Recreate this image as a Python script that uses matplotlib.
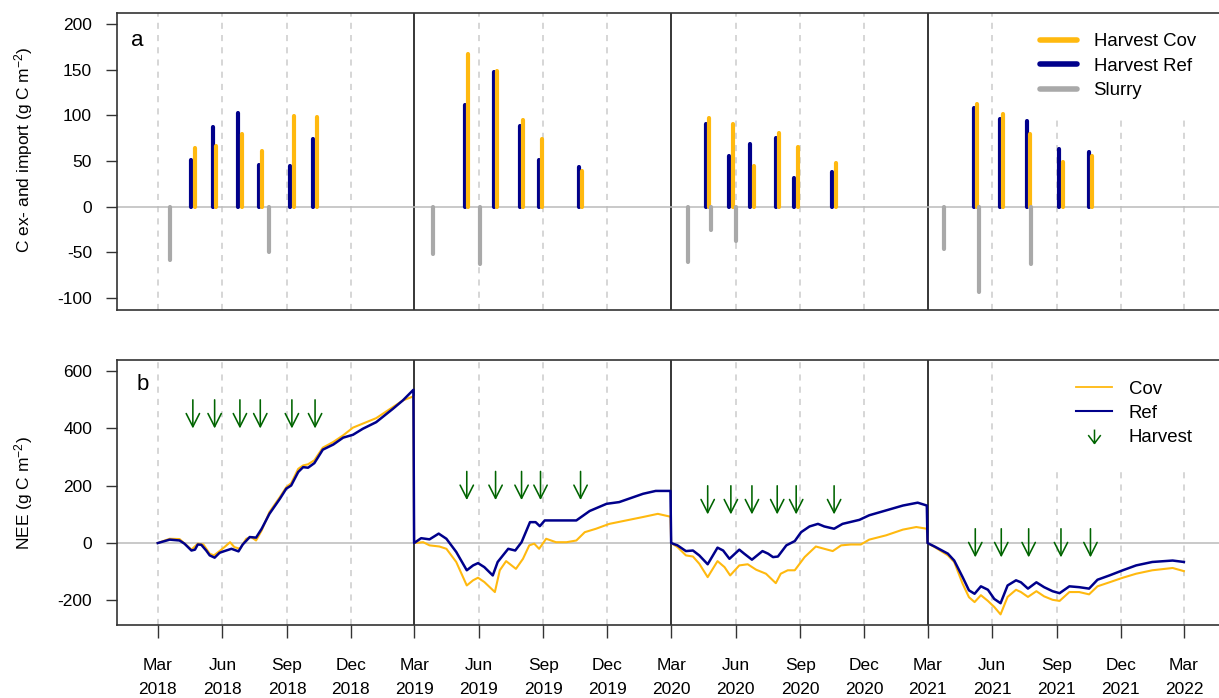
import numpy as np
import pandas as pd
import matplotlib
matplotlib.use('Agg')
from matplotlib import pyplot as plt
from matplotlib.lines import Line2D
from matplotlib.path import Path

plt.rcParams['font.family'] = ['Liberation Sans', 'DejaVu Sans']
plt.rcParams['font.size'] = 12.5
plt.rcParams['axes.unicode_minus'] = False
plt.rcParams['mathtext.fontset'] = 'custom'
plt.rcParams['mathtext.rm'] = 'Liberation Sans'
plt.rcParams['mathtext.it'] = 'Liberation Sans:italic'

# ---- harvest C export and slurry C import (g C m-2) ----
harvest_dates = ['2018-04-20', '2018-05-21', '2018-06-26', '2018-07-25', '2018-09-08', '2018-10-11',
                 '2019-05-15', '2019-06-25', '2019-08-01', '2019-08-28', '2019-10-24',
                 '2020-04-22', '2020-05-25', '2020-06-24', '2020-07-30', '2020-08-26', '2020-10-19',
                 '2021-05-08', '2021-06-14', '2021-07-23', '2021-09-07', '2021-10-19']
harvest_ref = [51, 87, 103, 46, 45, 74,
               111, 147, 88, 51, 44,
               90, 55, 69, 75, 31, 38,
               108, 96, 94, 63, 60]
harvest_cov = [64, 66, 80, 61, 99, 98,
               167, 148, 95, 74, 39,
               97, 90, 45, 81, 65, 48,
               112, 102, 80, 49, 55]
slurry_dates = ['2018-03-18', '2018-08-07', '2019-03-28', '2019-06-03', '2020-03-25',
                '2020-04-27', '2020-06-02', '2021-03-25', '2021-05-13', '2021-07-27']
slurry = [-58, -49, -52, -63, -60, -25, -38, -46, -93, -63]

# ---- cumulative NEE per year, days counted from 1 March ----
year_start = ['2018-03-01', '2019-03-01', '2020-03-01', '2021-03-01']

ref_2018_day = [0, 17, 31, 38, 48, 53, 57, 62, 69, 74, 81, 88, 95, 105, 115, 121, 131, 140, 148, 159,
                174, 183, 190, 200, 207, 214, 223, 235, 250, 264, 278, 292, 311, 335, 349, 364]
ref_2018 = [0, 12, 9, -2, -26, -23, -5, -6, -26, -43, -51, -34, -28, -20, -29, -5, 21, 19, 50, 102,
            155, 190, 201, 248, 265, 263, 279, 326, 344, 368, 378, 399, 422, 469, 498, 535]
cov_2018_day = [0, 17, 31, 48, 57, 65, 74, 80, 88, 95, 103, 109, 117, 126, 133, 140, 148, 159, 174,
                183, 190, 200, 207, 214, 223, 235, 250, 264, 278, 292, 311, 335, 349, 364]
cov_2018 = [0, 15, 14, -23, -2, -5, -37, -43, -28, -14, 3, -14, -20, 15, 21, 9, 44, 108, 161,
            195, 209, 259, 271, 275, 289, 333, 353, 376, 403, 417, 436, 475, 498, 512]

ref_2019_day = [0, 10, 22, 35, 46, 60, 75, 84, 91, 100, 112, 119, 134, 144, 153, 165, 173, 179, 186,
                202, 217, 231, 250, 274, 292, 326, 344, 365]
ref_2019 = [0, 17, 13, 33, 15, -31, -95, -78, -70, -84, -113, -66, -20, -26, 3, 73, 73, 59, 79,
            79, 79, 79, 112, 137, 143, 172, 182, 182]
cov_2019_day = [0, 13, 22, 36, 46, 60, 75, 84, 91, 100, 115, 122, 131, 145, 155, 164, 171, 178, 188,
                202, 217, 231, 243, 259, 278, 302, 326, 347, 365]
cov_2019 = [0, 3, -8, -12, -20, -66, -148, -130, -121, -136, -171, -95, -63, -90, -55, -8, -2, -20, 15,
            3, 3, 9, 38, 50, 67, 79, 91, 102, 92]

ref_2020_day = [0, 9, 21, 31, 40, 52, 66, 74, 83, 97, 104, 115, 130, 138, 145, 152, 164, 176, 185,
                197, 209, 218, 232, 244, 268, 282, 306, 330, 351, 364]
ref_2020 = [0, -8, -28, -26, -43, -74, -16, -26, -55, -23, -37, -58, -28, -37, -49, -47, -8, 7, 38,
            58, 67, 58, 50, 67, 81, 97, 114, 131, 141, 131]
cov_2020_day = [0, 9, 21, 31, 40, 52, 66, 76, 84, 97, 109, 121, 135, 149, 156, 166, 176, 190, 206,
                218, 230, 242, 256, 270, 282, 306, 330, 349, 364]
cov_2020 = [0, -14, -43, -47, -72, -119, -63, -84, -113, -78, -74, -93, -107, -140, -107, -95, -95,
            -49, -12, -20, -28, -8, -5, -5, 12, 27, 47, 56, 50]

ref_2021_day = [0, 10, 29, 38, 50, 59, 67, 76, 86, 95, 104, 114, 126, 133, 143, 155, 166, 178, 188,
                202, 216, 230, 242, 259, 278, 297, 320, 349, 365]
ref_2021 = [0, -12, -37, -61, -119, -165, -177, -151, -163, -195, -210, -148, -130, -137, -159, -137,
            -154, -168, -175, -151, -154, -159, -128, -113, -95, -78, -66, -61, -66]
cov_2021_day = ref_2021_day
cov_2021 = [0, -14, -43, -66, -142, -189, -206, -182, -202, -223, -249, -188, -163, -171, -188, -168,
            -186, -198, -202, -171, -171, -179, -151, -137, -121, -107, -95, -87, -98]

# arrow span (top, bottom) in panel b for each year
arrow_span = [(500, 400), (250, 150), (200, 100), (50, -50)]

month_names = ['Mar', 'Jun', 'Sep', 'Dec']

c_cov = '#FFB90F'
c_ref = '#00008B'
c_slurry = '#A9A9A9'
c_arrow = '#006400'
c_spine = '#333333'


def join_years(days_list, vals_list):
    t = []
    v = []
    for start, d, y in zip(year_start, days_list, vals_list):
        t.append(pd.Timestamp(start) + pd.to_timedelta(d, unit='D'))
        v.extend(y)
    return pd.DatetimeIndex(np.concatenate(t)), np.array(v)


t_ref, nee_ref = join_years([ref_2018_day, ref_2019_day, ref_2020_day, ref_2021_day],
                            [ref_2018, ref_2019, ref_2020, ref_2021])
t_cov, nee_cov = join_years([cov_2018_day, cov_2019_day, cov_2020_day, cov_2021_day],
                            [cov_2018, cov_2019, cov_2020, cov_2021])

h_dates = pd.to_datetime(harvest_dates)
s_dates = pd.to_datetime(slurry_dates)
shift = pd.Timedelta(days=2.4)

quarters = pd.date_range('2018-03-01', '2022-03-01', freq='3MS')
xlim = (pd.Timestamp('2018-01-02'), pd.Timestamp('2022-04-20'))

W, H = 1219., 698.
fig = plt.figure(figsize=(W / 100, H / 100), dpi=100)
ax1 = fig.add_axes([117 / W, 1 - 310 / H, (W - 117) / W, (310 - 13) / H])
ax2 = fig.add_axes([117 / W, 1 - 625 / H, (W - 117) / W, (625 - 360) / H])

for ax in (ax1, ax2):
    for q in quarters:
        if q.month == 3 and q.year in (2019, 2020, 2021):
            ax.axvline(q, color='black', lw=1.1, zorder=1)
        else:
            ax.axvline(q, color='#CCCCCC', lw=1.1, ls=(0, (4, 4)), zorder=1)
    ax.axhline(0, color='#BBBBBB', lw=1.1, zorder=1)
    ax.set_xlim(xlim)
    for side in ('top', 'left', 'bottom'):
        ax.spines[side].set_color(c_spine)
        ax.spines[side].set_linewidth(1.2)
        ax.spines[side].set_zorder(6)
    ax.spines['right'].set_visible(False)
    ax.tick_params(axis='y', direction='out', length=8, width=1, color=c_spine, pad=10,
                   labelsize=12.5)

# panel a: harvest exports and slurry imports
lc = ax1.vlines(h_dates - shift, 0, harvest_ref, colors=c_ref, lw=3, zorder=3)
lc.set_capstyle('round')
lc = ax1.vlines(h_dates + shift, 0, harvest_cov, colors=c_cov, lw=3, zorder=3)
lc.set_capstyle('round')
lc = ax1.vlines(s_dates, 0, slurry, colors=c_slurry, lw=3, zorder=3)
lc.set_capstyle('round')

ax1.set_ylim(-113, 212)
ax1.set_yticks([-100, -50, 0, 50, 100, 150, 200])
ax1.set_xticks([])
ax1.text(137, H - 40, 'a', transform=None, fontsize=16, ha='center', va='center')
leg1 = ax1.legend(handles=[Line2D([], [], color=c_cov, lw=4, solid_capstyle='round'),
                           Line2D([], [], color=c_ref, lw=4, solid_capstyle='round'),
                           Line2D([], [], color=c_slurry, lw=4, solid_capstyle='round')],
                  labels=['Harvest Cov', 'Harvest Ref', 'Slurry'],
                  loc='upper left', bbox_to_anchor=((1020 - 117) / (W - 117), 1.0),
                  frameon=True, fancybox=False,
                  facecolor='white', edgecolor='none', framealpha=1, fontsize=13.4,
                  handlelength=1.94, handletextpad=0.91, labelspacing=0.4,
                  borderpad=1.1, borderaxespad=0)
# white box hides the dashed grid but sits under the bars
leg1.set_zorder(2)

# panel b: cumulative NEE
ax2.plot(t_cov, nee_cov, color=c_cov, lw=1.5, zorder=3)
ax2.plot(t_ref, nee_ref, color=c_ref, lw=1.8, zorder=4)

years = h_dates.year
for k, yr in enumerate([2018, 2019, 2020, 2021]):
    top, bot = arrow_span[k]
    for d in h_dates[years == yr]:
        ax2.annotate('', xy=(d, bot), xytext=(d, top),
                     arrowprops=dict(arrowstyle='->,head_length=0.95,head_width=0.48',
                                     color=c_arrow, lw=1.15, mutation_scale=10,
                                     shrinkA=0, shrinkB=0), zorder=5)

ax2.set_ylim(-286, 639)
ax2.set_yticks([-200, 0, 200, 400, 600])
ax2.set_xticks(quarters)
ax2.set_xticklabels(['%s\n%d' % (month_names[(q.month - 3) // 3], q.year) for q in quarters],
                    linespacing=1.8)
ax2.tick_params(axis='x', direction='out', length=9.5, width=1, color=c_spine, pad=14,
                labelsize=12.5)
ax2.text(143, H - 385, 'b', transform=None, fontsize=16, ha='center', va='center')

# open arrow used as the harvest legend symbol
arrow_marker = Path([(0, 1), (0, -1), (-0.9, 0.2), (0, -1), (0.9, 0.2)],
                    [Path.MOVETO, Path.LINETO, Path.MOVETO, Path.LINETO, Path.LINETO])
leg2 = ax2.legend(handles=[Line2D([], [], color=c_cov, lw=1.3),
                           Line2D([], [], color=c_ref, lw=1.5),
                           Line2D([], [], ls='none', marker=arrow_marker, markersize=10,
                                  markerfacecolor='none', markeredgecolor=c_arrow,
                                  markeredgewidth=1.1)],
                  labels=['Cov', 'Ref', 'Harvest'],
                  loc='upper left', bbox_to_anchor=((1056 - 117) / (W - 117), 1.0),
                  frameon=True, fancybox=False,
                  facecolor='white', edgecolor='none', framealpha=1, fontsize=13.4,
                  handlelength=1.9, handletextpad=0.91, labelspacing=0.4, borderpad=1.1,
                  borderaxespad=0)
leg2.set_zorder(2)

fig.text(24 / W, 1 - 150 / H, 'C ex- and import (g C m$^{-2}$)', rotation=90,
         ha='center', va='center', fontsize=12.5)
fig.text(24 / W, 1 - 493 / H, 'NEE (g C m$^{-2}$)', rotation=90,
         ha='center', va='center', fontsize=12.5)

fig.savefig('out.png', dpi=100, facecolor='white')
